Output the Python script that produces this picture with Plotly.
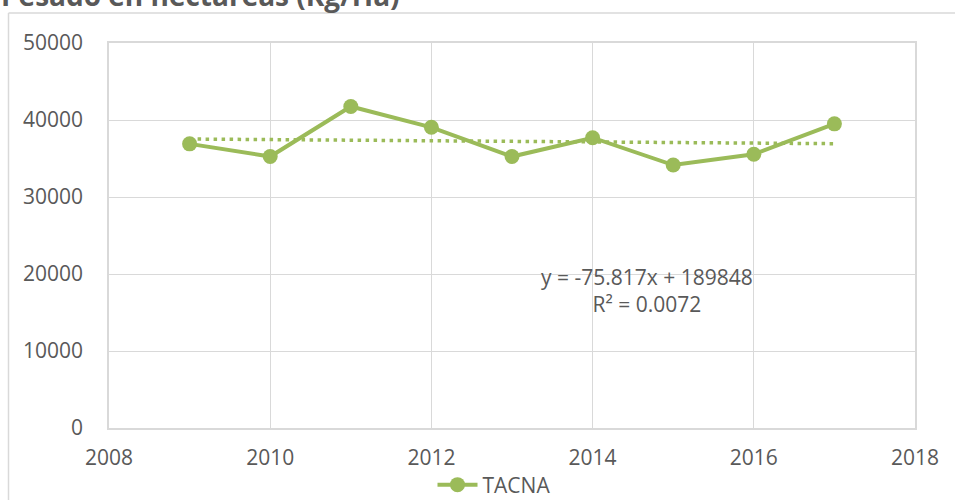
import plotly.graph_objects as go

years = [2009, 2010, 2011, 2012, 2013, 2014, 2015, 2016, 2017]
tacna = [36900, 35250, 41750, 39050, 35250, 37700, 34150, 35550, 39500]
trend_slope = -75.817
trend_intercept = 189848
trend_x = [2009, 2017]
trend_y = [trend_slope * x + trend_intercept for x in trend_x]

GREEN = "#9BBB59"
GRID = "#D9D9D9"
TEXT = "#595959"
FONT = "Open Sans"

W, H = 955, 500
L, R, T, B = 109, 40, 43, 72
pw, ph = W - L - R, H - T - B

def px(xp):
    return (xp - L) / pw

def py(yp):
    return (H - B - yp) / ph

fig = go.Figure()
fig.add_trace(go.Scatter(
    x=years, y=tacna, mode="lines+markers", name="TACNA",
    line=dict(color=GREEN, width=4),
    marker=dict(color=GREEN, size=15),
))
fig.add_trace(go.Scatter(
    x=trend_x, y=trend_y, mode="lines", showlegend=False,
    line=dict(color=GREEN, width=3.5, dash="3.5px,4.5px"),
))

fig.update_layout(
    width=W, height=H,
    margin=dict(l=L, r=R, t=T, b=B, autoexpand=False),
    paper_bgcolor="white", plot_bgcolor="white",
    font=dict(family=FONT, size=21, color=TEXT),
    showlegend=True,
    legend=dict(orientation="h", x=px(494), xanchor="center", y=py(485), yanchor="middle",
                font=dict(family=FONT, size=21, color=TEXT), itemwidth=40),
    xaxis=dict(range=[2008, 2018], dtick=2, tick0=2008, showgrid=True, gridcolor=GRID, gridwidth=1,
               showline=True, linecolor=GRID, linewidth=1.5, mirror=True, zeroline=False,
               ticks="", tickformat="d", ticklabelstandoff=10),
    yaxis=dict(range=[0, 50000], dtick=10000, showgrid=True, gridcolor=GRID, gridwidth=1,
               showline=True, linecolor=GRID, linewidth=1.5, mirror=True, zeroline=False,
               ticks="", tickformat="d", ticklabelstandoff=20),
    annotations=[
        dict(x=2014.67, y=17900, xref="x", yref="y",
             text="y = -75.817x + 189848<br>R² = 0.0072", showarrow=False,
             font=dict(family=FONT, size=21, color=TEXT), align="center"),
        dict(x=px(402), y=py(16), xref="paper", yref="paper", xanchor="right", yanchor="bottom",
             text="<b>Pesado en hectareas (Kg/Ha)</b>", showarrow=False,
             font=dict(family=FONT, size=28, color=TEXT)),
    ],
    shapes=[
        dict(type="line", xref="paper", yref="paper", x0=px(8.5), x1=px(8.5), y0=py(13), y1=py(510),
             line=dict(color=GRID, width=1.5)),
        dict(type="line", xref="paper", yref="paper", x0=px(8.5), x1=px(960), y0=py(13), y1=py(13),
             line=dict(color=GRID, width=1.5)),
    ],
)

fig.write_html("out.html", config={"displayModeBar": False},
               post_script="document.body.style.margin='0px';document.body.style.overflow='hidden';")
